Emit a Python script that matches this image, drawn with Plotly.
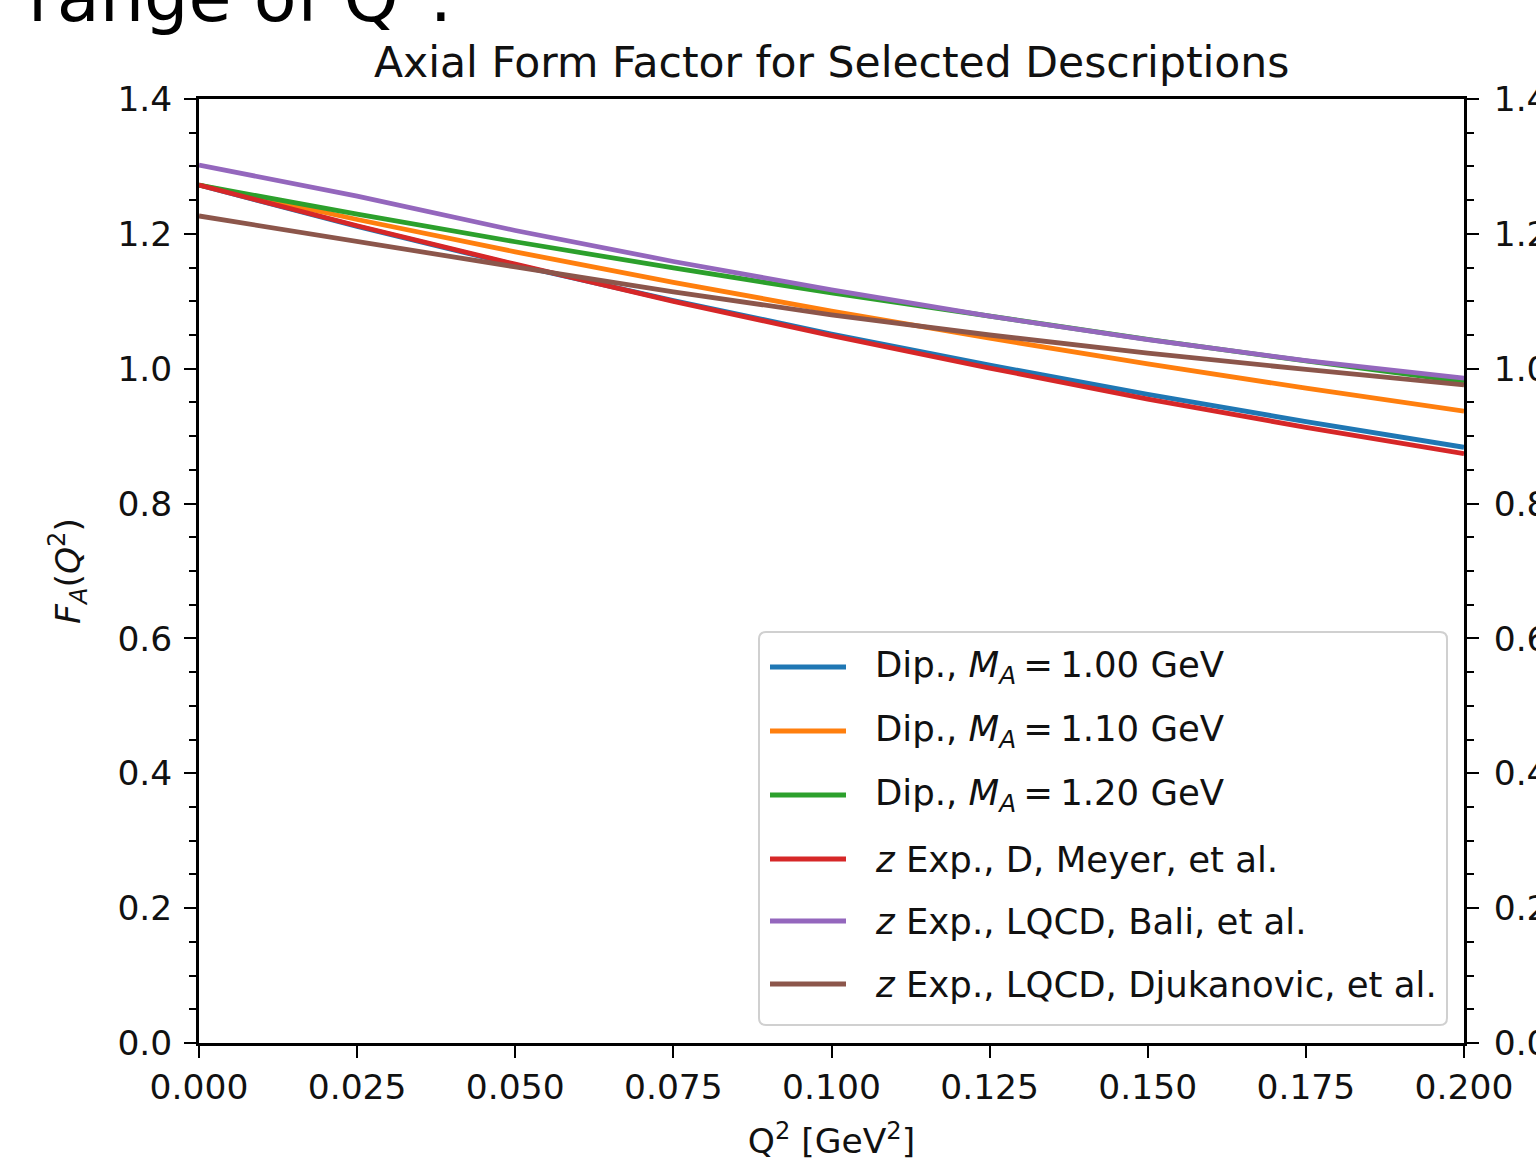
import plotly.graph_objects as go

# ---------------- data ----------------
q2 = [0.0, 0.025, 0.05, 0.075, 0.1, 0.125, 0.15, 0.175, 0.2]
fa_dip_100 = [1.2723, 1.2110, 1.1540, 1.1010, 1.0515, 1.0053, 0.9620, 0.9215, 0.8835]
fa_dip_110 = [1.2723, 1.2213, 1.1733, 1.1281, 1.0855, 1.0452, 1.0071, 0.9711, 0.9370]
fa_dip_120 = [1.2723, 1.2292, 1.1883, 1.1494, 1.1124, 1.0772, 1.0436, 1.0115, 0.9809]
fa_z_meyer = [1.2723, 1.2120, 1.1550, 1.1000, 1.0490, 1.0010, 0.9550, 0.9130, 0.8740]
fa_z_bali = [1.3020, 1.2560, 1.2050, 1.1590, 1.1170, 1.0780, 1.0430, 1.0120, 0.9860]
fa_z_djuk = [1.2265, 1.1880, 1.1510, 1.1140, 1.0800, 1.0500, 1.0230, 0.9990, 0.9760]

series_labels = [
    "Dip., <i>M</i><sub><i>A</i></sub>\u2009=\u20091.00 GeV",
    "Dip., <i>M</i><sub><i>A</i></sub>\u2009=\u20091.10 GeV",
    "Dip., <i>M</i><sub><i>A</i></sub>\u2009=\u20091.20 GeV",
    "<i>z</i> Exp., D, Meyer, et al.",
    "<i>z</i> Exp., LQCD, Bali, et al.",
    "<i>z</i> Exp., LQCD, Djukanovic, et al.",
]
series_values = [fa_dip_100, fa_dip_110, fa_dip_120, fa_z_meyer, fa_z_bali, fa_z_djuk]
series_colors = ["#1f77b4", "#ff7f0e", "#2ca02c", "#d62728", "#9467bd", "#8c564b"]

y_ticks = [0.0, 0.2, 0.4, 0.6, 0.8, 1.0, 1.2, 1.4]
x_ticks = [0.0, 0.025, 0.05, 0.075, 0.1, 0.125, 0.15, 0.175, 0.2]

# ---------------- layout geometry ----------------
W, H = 1536, 1161
L, R, T, B = 199, 1464, 99, 1043
FONT = "DejaVu Sans"
TXT = "#111111"


def px_x(p):
    return (p - L) / (R - L)


def px_y(p):
    return (B - p) / (B - T)


fig = go.Figure()
for lab, vals, col in zip(series_labels, series_values, series_colors):
    fig.add_trace(go.Scatter(x=q2, y=vals, mode="lines", name=lab,
                             line=dict(color=col, width=4.8), showlegend=False))

# invisible trace so the right-hand axis is drawn
fig.add_trace(go.Scatter(x=[q2[0]], y=[fa_dip_100[0]], yaxis="y2", mode="markers",
                         marker=dict(opacity=0), showlegend=False, hoverinfo="skip"))

axis_common = dict(showgrid=False, zeroline=False, showline=True, linecolor="black",
                   linewidth=2.6, ticks="outside", ticklen=12, tickwidth=2.4,
                   tickcolor="black", tickfont=dict(family=FONT, size=34.5, color=TXT))

fig.update_layout(
    width=W, height=H,
    margin=dict(l=L, r=W - R, t=T, b=H - B, autoexpand=False),
    paper_bgcolor="white", plot_bgcolor="white",
    font=dict(family=FONT, size=34, color=TXT),
    xaxis=dict(range=[0, 0.2], tickvals=x_ticks, tickformat=".3f", mirror=True,
               ticklabelstandoff=0,
               title=dict(text="Q<sup>2</sup> [GeV<sup>2</sup>]", standoff=32,
                          font=dict(family=FONT, size=34.5, color=TXT)),
               **axis_common),
    yaxis=dict(range=[0, 1.4], tickvals=y_ticks, tickformat=".1f",
               ticklabelstandoff=5,
               minor=dict(dtick=0.05, ticks="outside", ticklen=7, tickwidth=2,
                          tickcolor="black", showgrid=False),
               title=dict(text="<i>F</i><sub><i>A</i></sub>(<i>Q</i><sup>2</sup>)",
                          standoff=27, font=dict(family=FONT, size=34.5, color=TXT)),
               **axis_common),
    yaxis2=dict(range=[0, 1.4], tickvals=y_ticks, tickformat=".1f", overlaying="y",
                side="right", ticklabelstandoff=8,
                minor=dict(dtick=0.05, ticks="outside", ticklen=7, tickwidth=2,
                           tickcolor="black", showgrid=False),
                **axis_common),
)

# title
fig.add_annotation(text="Axial Form Factor for Selected Descriptions",
                   xref="paper", yref="paper", x=0.5, y=1.0, xanchor="center",
                   yanchor="bottom", yshift=10, showarrow=False,
                   font=dict(family=FONT, size=42.5, color=TXT))

# cut-off heading text from the slide above the chart
fig.add_annotation(text="range of Q<sup>2</sup>.", xref="paper", yref="paper",
                   x=px_x(26), y=px_y(40), xanchor="left", yanchor="bottom",
                   showarrow=False, font=dict(family=FONT, size=70, color="black"))

# legend box (rounded rectangle)
lx0, lx1, ly0, ly1 = 759, 1447, 632, 1025
rr = 7
x0, x1 = px_x(lx0), px_x(lx1)
y0, y1 = px_y(ly1), px_y(ly0)
rx = rr / (R - L)
ry = rr / (B - T)
path = (f"M{x0 + rx},{y0} L{x1 - rx},{y0} Q{x1},{y0} {x1},{y0 + ry} "
        f"L{x1},{y1 - ry} Q{x1},{y1} {x1 - rx},{y1} L{x0 + rx},{y1} "
        f"Q{x0},{y1} {x0},{y1 - ry} L{x0},{y0 + ry} Q{x0},{y0} {x0 + rx},{y0} Z")
fig.add_shape(type="path", path=path, xref="paper", yref="paper",
              fillcolor="rgba(255,255,255,0.8)", line=dict(color="#d0d0d0", width=2))

row_y = [667, 731, 795, 859, 921, 984]
for lab, col, ry_px in zip(series_labels, series_colors, row_y):
    fig.add_shape(type="line", xref="paper", yref="paper",
                  x0=px_x(770), x1=px_x(846), y0=px_y(ry_px), y1=px_y(ry_px),
                  line=dict(color=col, width=4.8))
    fig.add_annotation(text=lab, xref="paper", yref="paper", x=px_x(873), y=px_y(ry_px),
                       xanchor="left", yanchor="middle", showarrow=False,
                       font=dict(family=FONT, size=35.5, color=TXT))

fig.write_html("out.html")
